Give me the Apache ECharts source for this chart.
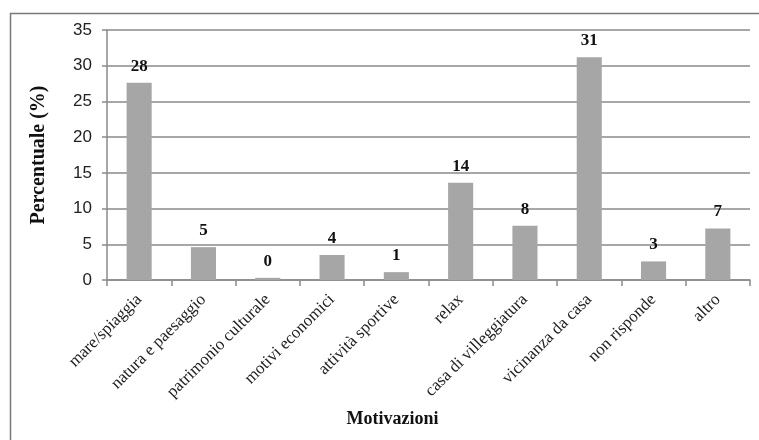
<!DOCTYPE html>
<html>
<head>
<meta charset="utf-8">
<script src="https://cdn.jsdelivr.net/npm/echarts@6/dist/echarts.min.js"></script>
<style>
  html, body { margin: 0; padding: 0; background: #ffffff; }
  #chart { width: 759px; height: 440px; }
</style>
</head>
<body>
<div id="chart"></div>
<script>
// Motivazioni della scelta della destinazione (percentuali)
const categories = [
  'mare/spiaggia', 'natura e paesaggio', 'patrimonio culturale', 'motivi economici',
  'attività sportive', 'relax', 'casa di villeggiatura', 'vicinanza da casa',
  'non risponde', 'altro'
];
const percentuali = [27.6, 4.6, 0.3, 3.5, 1.1, 13.6, 7.6, 31.2, 2.6, 7.2];
const yTicks = [0, 5, 10, 15, 20, 25, 30, 35];

const serif = '"Liberation Serif", "DejaVu Serif", serif';
const sans = '"Liberation Sans", Arial, sans-serif';

const chart = echarts.init(document.getElementById('chart'), null, { renderer: 'canvas' });

chart.setOption({
  animation: false,
  backgroundColor: '#ffffff',
  graphic: [{
    type: 'rect',
    left: 8, top: 11,
    shape: { width: 800, height: 500 },
    style: { fill: 'none', stroke: '#7a7a7a', lineWidth: 1.5 },
    silent: true
  }],
  grid: { left: 107, right: 9, top: 30, bottom: 160 },
  xAxis: {
    type: 'category',
    data: categories,
    name: 'Motivazioni',
    nameLocation: 'middle',
    nameGap: 130,
    nameTextStyle: {
      fontFamily: serif, fontWeight: 'bold', fontSize: 18, color: '#111',
      padding: [0, 72, 0, 0]
    },
    axisLine: { lineStyle: { color: '#8a8a8a', width: 1.5 } },
    axisTick: { show: true, alignWithLabel: false, length: 6, lineStyle: { color: '#8a8a8a', width: 1.5 } },
    axisLabel: {
      rotate: 45,
      interval: 0,
      margin: 17,
      fontFamily: serif,
      fontSize: 17,
      color: '#222'
    }
  },
  yAxis: {
    type: 'value',
    min: 0,
    max: yTicks[yTicks.length - 1],
    interval: yTicks[1] - yTicks[0],
    name: 'Percentuale (%)',
    nameLocation: 'middle',
    nameGap: 58,
    nameRotate: 90,
    nameTextStyle: { fontFamily: serif, fontWeight: 'bold', fontSize: 20, color: '#111' },
    axisLine: { show: true, lineStyle: { color: '#8a8a8a', width: 1.5 } },
    axisTick: { show: true, length: 5, lineStyle: { color: '#8a8a8a', width: 1.5 } },
    axisLabel: { fontFamily: sans, fontSize: 17, color: '#222', margin: 15 },
    splitLine: { show: true, lineStyle: { color: '#8a8a8a', width: 1.5 } }
  },
  series: [{
    type: 'bar',
    data: percentuali,
    barWidth: '39%',
    itemStyle: { color: '#a6a6a6' },
    label: {
      show: true,
      position: 'top',
      distance: 8,
      fontFamily: serif,
      fontWeight: 'bold',
      fontSize: 17,
      color: '#111',
      formatter: p => String(Math.round(p.value))
    }
  }]
});
</script>
</body>
</html>
